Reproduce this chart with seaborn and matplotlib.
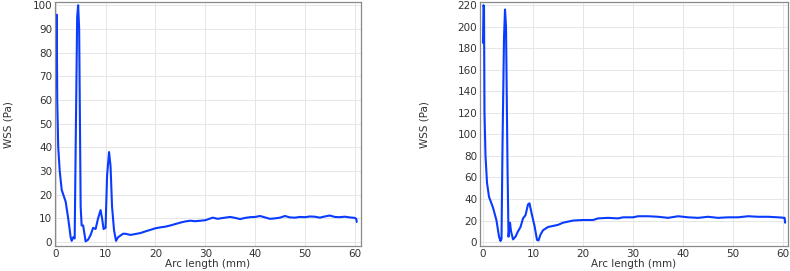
import matplotlib
matplotlib.use("Agg")
import matplotlib.pyplot as plt
import seaborn as sns
import pandas as pd

# Ліва панель: WSS вздовж дуги
arc_left = [0.0, 0.1, 0.2, 0.3, 0.5, 0.8, 1.2, 2.0, 2.5, 3.0, 3.2, 3.5, 3.8,
            4.0, 4.3, 4.5, 4.7, 5.0, 5.2, 5.5, 5.8, 6.0, 6.5, 7.0, 7.5, 8.0,
            8.5, 9.0, 9.3, 9.6, 10.0, 10.3, 10.7, 11.0, 11.3, 11.7, 12.1,
            12.5, 13.5, 14.0, 15.0, 17.0, 18.0, 20.0, 21.0, 22.0, 23.0, 24.0,
            25.0, 26.0, 27.0, 28.0, 29.0, 30.0, 31.5, 32.5, 33.0, 34.0, 35.0,
            36.0, 37.0, 38.0, 39.0, 40.0, 41.0, 42.0, 43.0, 44.0, 45.0, 46.0,
            47.0, 48.0, 49.0, 50.0, 51.0, 52.0, 53.0, 54.0, 55.0, 56.0, 57.0,
            58.0, 59.0, 60.0, 60.3, 60.4]
wss_left = [65, 90, 96, 60, 40, 30, 22, 17, 10, 2, 0.5, 2, 1.5,
            40, 95, 100, 90, 15, 7, 7, 3, 0.3, 1, 3, 6, 5.5,
            10, 13.5, 10, 5.5, 6, 28, 38, 32, 15, 5, 0.5,
            2, 3.5, 3.5, 3, 3.8, 4.5, 5.8, 6.2, 6.5, 7.0, 7.6,
            8.2, 8.7, 9.0, 8.8, 9.0, 9.2, 10.3, 9.8, 10.0, 10.3, 10.6,
            10.2, 9.7, 10.2, 10.5, 10.6, 11.0, 10.4, 9.8, 10.0, 10.3, 11.0,
            10.4, 10.3, 10.6, 10.5, 10.8, 10.7, 10.3, 10.8, 11.2, 10.6, 10.5,
            10.7, 10.4, 10.2, 9.8, 8.5]

# Права панель
arc_right = [0.0, 0.1, 0.2, 0.3, 0.5, 0.8, 1.2, 2.0, 2.7, 3.2, 3.5, 3.7, 3.9,
             4.2, 4.4, 4.6, 4.9, 5.1, 5.4, 5.6, 6.0, 6.5, 7.0, 7.5, 8.0, 8.5,
             9.0, 9.3, 9.7, 10.3, 10.8, 11.1, 11.5, 12.0, 13.0, 14.0, 15.0,
             16.0, 18.0, 20.0, 22.0, 23.0, 25.0, 27.0, 28.0, 30.0, 31.0, 33.0,
             35.0, 37.0, 39.0, 41.0, 43.0, 45.0, 47.0, 49.0, 51.0, 53.0, 55.0,
             57.0, 59.0, 60.3, 60.4]
wss_right = [185, 220, 218, 120, 80, 55, 42, 32, 20, 5, 1, 3, 90,
             190, 216, 200, 70, 5, 18, 10, 2.5, 5, 10, 14, 22, 25,
             35, 36, 27, 15, 2, 1.5, 7, 11, 14, 15, 16,
             18, 20, 20.5, 20.5, 22, 22.5, 22.0, 23, 23, 24, 24,
             23.5, 22.5, 24, 23, 22.5, 23.5, 22.5, 23, 23, 24, 23.5,
             23.5, 23, 22.5, 18]

left_ticks = list(range(0, 101, 10))
right_ticks = list(range(0, 221, 20))
x_ticks = list(range(0, 61, 10))

sns.set_style("whitegrid")
plt.rcParams["font.family"] = ["DejaVu Sans"]

fig = plt.figure(figsize=(7.9, 2.71), dpi=100)
ax1 = fig.add_axes([0.0696, 0.092, 0.387, 0.90])
ax2 = fig.add_axes([0.6076, 0.092, 0.390, 0.90])

panels = [
    (ax1, arc_left, wss_left, left_ticks, (-1.7, 101.3), (-0.15, 61.2), 14),
    (ax2, arc_right, wss_right, right_ticks, (-3.7, 222.8), (-0.6, 61.0), 20),
]

for ax, xs, ys, yt, ylim, xlim, pad in panels:
    df = pd.DataFrame({"arc": xs, "wss": ys})
    sns.lineplot(data=df, x="arc", y="wss", ax=ax, color="#0a3cff",
                 linewidth=1.5, estimator=None, sort=False)
    ax.set_xlim(*xlim)
    ax.set_ylim(*ylim)
    ax.set_xticks(x_ticks)
    ax.set_yticks(yt)
    ax.grid(True, color="#e6e6e6", linewidth=0.7)
    for s in ax.spines.values():
        s.set_color("#8a8a8a")
        s.set_linewidth(0.9)
    ax.tick_params(axis="both", labelsize=7.5, colors="#8a8a8a",
                   labelcolor="#333333", direction="in", length=3, pad=2)
    ax.set_xlabel("Arc length (mm)", fontsize=7.5, color="#333333", labelpad=0)
    ax.set_ylabel("WSS (Pa)", fontsize=7.5, color="#333333", labelpad=pad)

fig.savefig("out.png", dpi=100)
